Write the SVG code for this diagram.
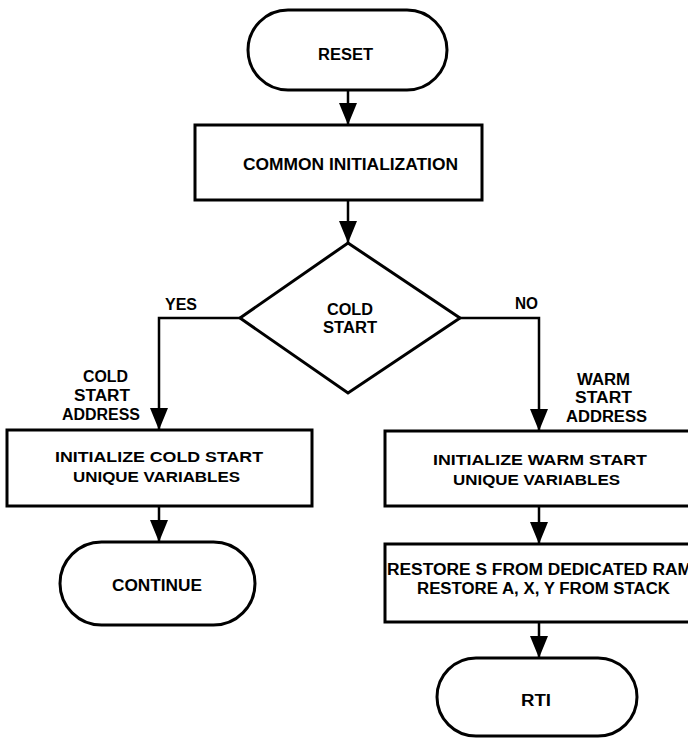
<svg xmlns="http://www.w3.org/2000/svg" width="688" height="738" viewBox="0 0 688 738">
<style>
.shape{fill:#fff;stroke:#000;stroke-width:3}
.conn{fill:none;stroke:#000;stroke-width:2.5}
text{font-family:"Liberation Sans",Arial,Helvetica,sans-serif;font-weight:bold;fill:#000;text-anchor:middle}
.t16{font-size:16px}
.t15{font-size:15px}
.t14{font-size:14.5px}
</style>
<defs>
<marker id="arr" viewBox="0 0 22 18" refX="22" refY="9" markerWidth="22" markerHeight="18" markerUnits="userSpaceOnUse" orient="auto">
<path d="M0,0 L22,9 L0,18 Z" fill="#000"/>
</marker>
</defs>
<rect width="688" height="738" fill="#fff"/>
<g id="connectors">
<path class="conn" d="M348,90 V125" marker-end="url(#arr)"/>
<path class="conn" d="M348,200 V243" marker-end="url(#arr)"/>
<path class="conn" d="M240,318 H159 V430" marker-end="url(#arr)"/>
<path class="conn" d="M460,318 H539 V431" marker-end="url(#arr)"/>
<path class="conn" d="M159,506 V542" marker-end="url(#arr)"/>
<path class="conn" d="M539,506 V544" marker-end="url(#arr)"/>
<path class="conn" d="M539,622 V658" marker-end="url(#arr)"/>
<text class="t16" x="181" y="310" textLength="32" lengthAdjust="spacingAndGlyphs">YES</text>
<text class="t16" x="526.5" y="309" textLength="23" lengthAdjust="spacingAndGlyphs">NO</text>
<text class="t16" x="105.5" y="382" textLength="45" lengthAdjust="spacingAndGlyphs">COLD</text>
<text class="t16" x="102" y="401" textLength="56" lengthAdjust="spacingAndGlyphs">START</text>
<text class="t16" x="101" y="420" textLength="78" lengthAdjust="spacingAndGlyphs">ADDRESS</text>
<text class="t16" x="603.5" y="385" textLength="53" lengthAdjust="spacingAndGlyphs">WARM</text>
<text class="t16" x="603.5" y="403" textLength="57" lengthAdjust="spacingAndGlyphs">START</text>
<text class="t16" x="606.5" y="422" textLength="81" lengthAdjust="spacingAndGlyphs">ADDRESS</text>
</g>
<g id="reset">
<rect class="shape" x="248" y="10" width="199" height="80" rx="40" ry="40"/>
<text class="t16" x="345.5" y="60" textLength="55" lengthAdjust="spacingAndGlyphs">RESET</text>
</g>
<g id="common-init">
<rect class="shape" x="195" y="125" width="287" height="75"/>
<text class="t16" x="350.5" y="170" textLength="215" lengthAdjust="spacingAndGlyphs">COMMON INITIALIZATION</text>
</g>
<g id="cold-start-decision">
<polygon class="shape" points="348,243 460,318 348,393 240,318"/>
<text class="t16" x="350" y="315" textLength="46" lengthAdjust="spacingAndGlyphs">COLD</text>
<text class="t16" x="350" y="333" textLength="54" lengthAdjust="spacingAndGlyphs">START</text>
</g>
<g id="init-cold">
<rect class="shape" x="7" y="430" width="305" height="76"/>
<text class="t14" x="159" y="462" textLength="208" lengthAdjust="spacingAndGlyphs">INITIALIZE COLD START</text>
<text class="t14" x="156.5" y="482" textLength="167" lengthAdjust="spacingAndGlyphs">UNIQUE VARIABLES</text>
</g>
<g id="init-warm">
<rect class="shape" x="385" y="431" width="315" height="75"/>
<text class="t14" x="540" y="465" textLength="214" lengthAdjust="spacingAndGlyphs">INITIALIZE WARM START</text>
<text class="t14" x="536.5" y="485" textLength="167" lengthAdjust="spacingAndGlyphs">UNIQUE VARIABLES</text>
</g>
<g id="continue">
<rect class="shape" x="60" y="542" width="195" height="83" rx="41.5" ry="41.5"/>
<text class="t16" x="157" y="591" textLength="90" lengthAdjust="spacingAndGlyphs">CONTINUE</text>
</g>
<g id="restore">
<rect class="shape" x="385" y="544" width="315" height="78"/>
<text class="t16" x="539.5" y="575" textLength="305" lengthAdjust="spacingAndGlyphs">RESTORE S FROM DEDICATED RAM</text>
<text class="t16" x="543.5" y="594" textLength="253" lengthAdjust="spacingAndGlyphs">RESTORE A, X, Y FROM STACK</text>
</g>
<g id="rti">
<rect class="shape" x="437" y="658" width="200" height="78" rx="39" ry="39"/>
<text class="t16" x="536" y="706" textLength="30" lengthAdjust="spacingAndGlyphs">RTI</text>
</g>
</svg>
